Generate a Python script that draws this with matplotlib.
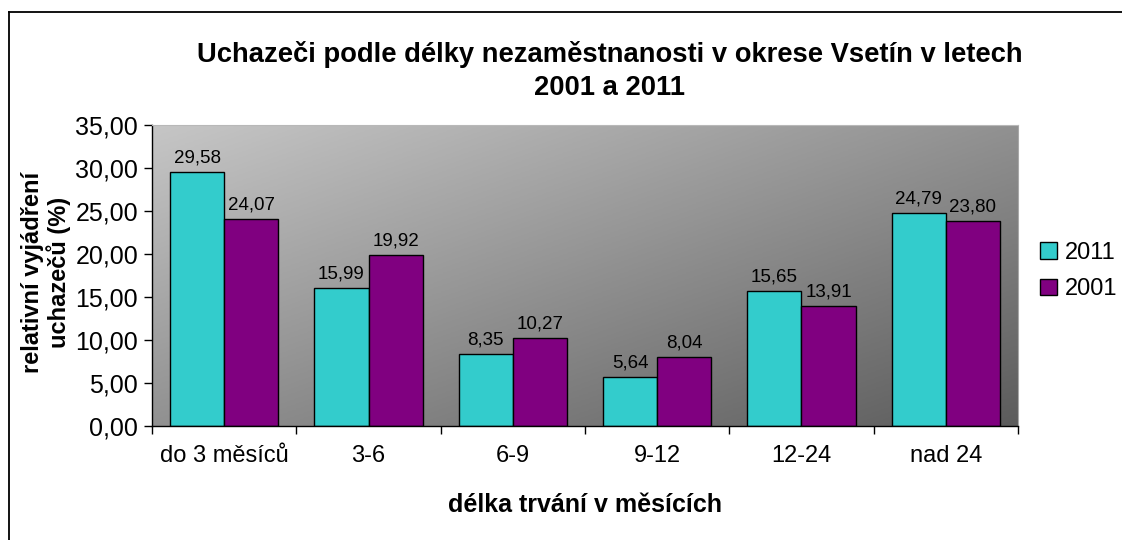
import numpy as np
import matplotlib
matplotlib.use("Agg")
import matplotlib.pyplot as plt
from matplotlib.colors import LinearSegmentedColormap
from matplotlib.patches import Patch
from matplotlib.lines import Line2D
from matplotlib.ticker import FuncFormatter, FixedLocator, NullFormatter

# --- DATA ---
categories = ["do 3 měsíců", "3-6", "6-9", "9-12", "12-24", "nad 24"]
values_2011 = [29.58, 15.99, 8.35, 5.64, 15.65, 24.79]
values_2001 = [24.07, 19.92, 10.27, 8.04, 13.91, 23.80]
series_names = ["2011", "2001"]
y_ticks = [0, 5, 10, 15, 20, 25, 30, 35]

TITLE = "Uchazeči podle délky nezaměstnanosti v okrese Vsetín v letech\n2001 a 2011"
XLABEL = "délka trvání v měsících"
YLABEL = "relativní vyjádření\nuchazečů (%)"

CYAN = "#33CCCC"
PURPLE = "#800080"

plt.rcParams['font.family'] = ['Liberation Sans', 'DejaVu Sans']

def cz(v, pos=None):
    return f"{v:.2f}".replace(".", ",")

W, H = 1122, 540
fig = plt.figure(figsize=(W / 100, H / 100), dpi=100)
fig.patch.set_facecolor("white")

# outer chart border: only left and top edges are inside the image
bx, by = 9 / W, 1 - 12 / H
fig.lines.append(Line2D([bx, bx], [0, by], transform=fig.transFigure, color="black", lw=1.3))
fig.lines.append(Line2D([bx, 1], [by, by], transform=fig.transFigure, color="black", lw=1.3))

ax = fig.add_axes([152 / W, 1 - 426 / H, (1018 - 152) / W, (426 - 125) / H])

# gradient plot area background
n = len(categories)
gx, gy = np.meshgrid(np.linspace(0, 1, 200), np.linspace(0, 1, 200))
grad = (gx + gy) / 2
cmap = LinearSegmentedColormap.from_list("g", ["#C6C6C6", "#5C5C5C"])
ax.imshow(grad, cmap=cmap, extent=[-0.5, n - 0.5, 0, 35], aspect="auto",
          origin="upper", zorder=0, vmin=0, vmax=1)

x = np.arange(n)
bw = 0.375
b1 = ax.bar(x - bw / 2, values_2011, bw, color=CYAN, edgecolor="black", linewidth=1, zorder=2,
            label=series_names[0])
b2 = ax.bar(x + bw / 2, values_2001, bw, color=PURPLE, edgecolor="black", linewidth=1, zorder=2,
            label=series_names[1])
ax.bar_label(b1, labels=[cz(v) for v in values_2011], padding=4, fontsize=13.5)
ax.bar_label(b2, labels=[cz(v) for v in values_2001], padding=4, fontsize=13.5)

ax.set_xlim(-0.5, n - 0.5)
ax.set_ylim(0, 35)
ax.set_yticks(y_ticks)
ax.yaxis.set_major_formatter(FuncFormatter(cz))

# ticks at group boundaries, labels at centres
ax.xaxis.set_major_locator(FixedLocator(np.arange(n + 1) - 0.5))
ax.xaxis.set_major_formatter(NullFormatter())
ax.xaxis.set_minor_locator(FixedLocator(x))
ax.set_xticklabels(categories, minor=True)
ax.tick_params(axis="x", which="minor", length=0, labelsize=17, pad=14)
ax.tick_params(axis="x", which="major", length=6, direction="out", width=1)
ax.tick_params(axis="y", length=6, direction="out", width=1, labelsize=18, pad=4)

for s in ["left", "bottom"]:
    ax.spines[s].set_color("black")
    ax.spines[s].set_linewidth(1)
ax.spines["top"].set_color("#B8B8B8")
ax.spines["right"].set_color("#A8A8A8")

fig.text(610 / W, 1 - 71 / H, TITLE, ha="center", va="center", fontsize=19.7,
         fontweight="bold", linespacing=1.35)
fig.text(585 / W, 1 - 505 / H, XLABEL, ha="center", va="center", fontsize=18,
         fontweight="bold")
fig.text(46 / W, 1 - 272 / H, YLABEL, ha="center", va="center", fontsize=17,
         fontweight="bold", rotation=90, linespacing=1.1)

handles = [Patch(facecolor=CYAN, edgecolor="black"), Patch(facecolor=PURPLE, edgecolor="black")]
fig.legend(handles, series_names, loc="center left", bbox_to_anchor=(1040 / W, 1 - 271 / H),
           frameon=False, fontsize=17, handlelength=0.7, handleheight=0.7,
           handletextpad=0.35, labelspacing=0.62, borderaxespad=0, borderpad=0)

fig.savefig("out.png", dpi=100)
